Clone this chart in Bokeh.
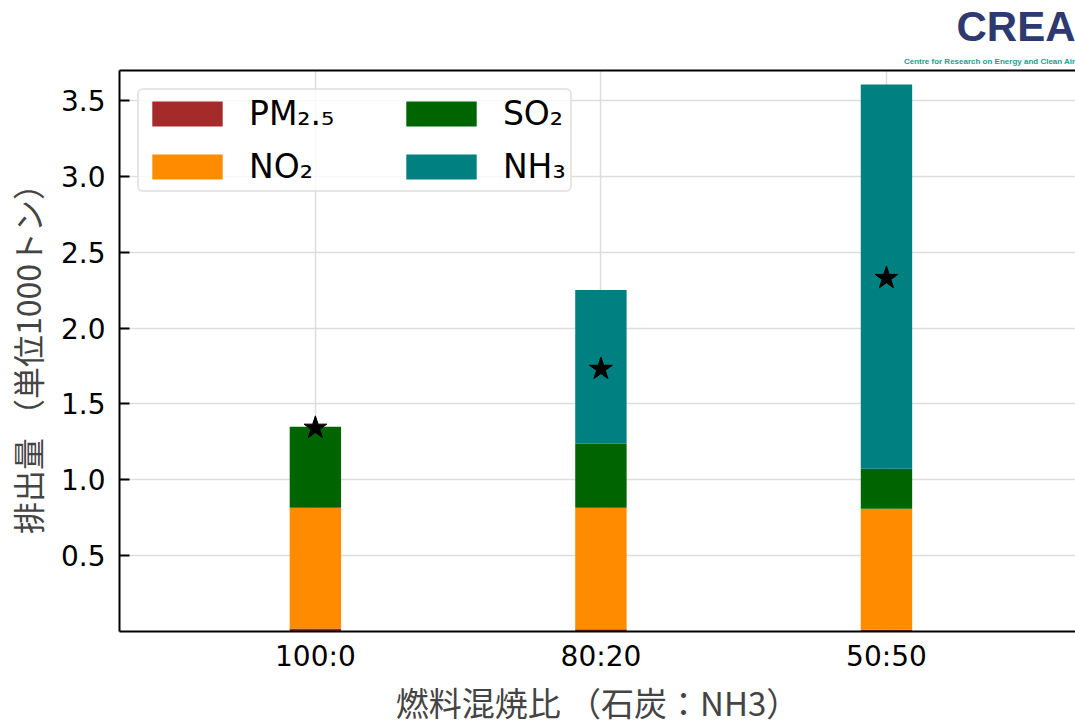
from bokeh.plotting import figure
from bokeh.models import (Range1d, FixedTicker, LinearAxis, Legend, LegendItem,
                          ColumnDataSource, Title, PrintfTickFormatter)
from bokeh.embed import file_html
from bokeh.resources import INLINE

# ---------------- data ----------------
categories = ["100:0", "80:20", "50:50"]
pm25 = [0.020, 0.015, 0.012]
no2 = [0.796, 0.801, 0.797]
so2 = [0.533, 0.421, 0.263]
nh3 = [0.000, 1.013, 2.533]
star_values = [1.342, 1.730, 2.329]
series_names = ["pm25", "no2", "so2", "nh3"]
legend_labels = ["PM\u2082.\u2085" + "\u00a0" * 4 + "\u2009", "NO\u2082", "SO\u2082", "NH\u2083"]
series_colors = ["#a52a2a", "#ff8c00", "#006400", "#008080"]
y_ticks = [0.5, 1.0, 1.5, 2.0, 2.5, 3.0, 3.5]
x_label = "燃料混焼比 （石炭：NH3）"
y_label = "排出量 （単位1000トン）"
logo_name = "CREA"
logo_sub = "Centre for Research on Energy and Clean Air"

xpos = list(range(len(categories)))
source = ColumnDataSource(dict(x=xpos, pm25=pm25, no2=no2, so2=so2, nh3=nh3,
                               star=star_values))

CJK = "Noto Sans CJK JP"
LAT = "DejaVu Sans"

p = figure(width=1075, height=728, output_backend="svg", toolbar_location=None,
           x_range=Range1d(-0.686, 2.662), y_range=Range1d(0, 3.697),
           min_border_left=119, min_border_right=0, min_border_top=70,
           min_border_bottom=96)
p.outline_line_color = None
p.background_fill_color = "white"

renderers = p.vbar_stack(series_names, x="x", width=0.18, source=source,
                         color=series_colors, line_color=None)

p.scatter(x="x", y="star", source=source, marker="star", size=24,
          color="black")

# axes
p.yaxis.ticker = FixedTicker(ticks=y_ticks)
p.yaxis.formatter = PrintfTickFormatter(format="%.1f")
p.xaxis.ticker = FixedTicker(ticks=xpos)
p.xaxis.major_label_overrides = {i: c for i, c in enumerate(categories)}
for ax in (p.xaxis[0], p.yaxis[0]):
    ax.axis_line_color = "black"
    ax.axis_line_width = 2
    ax.minor_tick_line_color = None
    ax.major_label_text_font = LAT
    ax.major_label_text_font_size = "28px"
    ax.major_label_text_color = "black"
    ax.axis_label_text_font = CJK
    ax.axis_label_text_font_size = "32px"
    ax.axis_label_text_font_style = "normal"
    ax.axis_label_text_color = "#444444"
p.xaxis.axis_label_text_font_size = "33px"
p.yaxis.major_tick_in = 10
p.yaxis.major_tick_out = 0
p.yaxis.major_tick_line_width = 2
p.yaxis.major_label_standoff = 14
p.yaxis.axis_label = y_label
p.yaxis.axis_label_standoff = 8
p.xaxis.major_tick_line_color = None
p.xaxis.major_tick_in = 0
p.xaxis.major_tick_out = 0
p.xaxis.major_label_standoff = 8
p.xaxis.axis_label = x_label
p.xaxis.axis_label_standoff = 2

top_axis = LinearAxis(axis_line_color="black", axis_line_width=2,
                      major_tick_line_color=None, minor_tick_line_color=None,
                      major_label_text_font_size="0px", ticker=FixedTicker(ticks=[]))
p.add_layout(top_axis, "above")

p.grid.grid_line_color = "#dddddd"
p.grid.grid_line_width = 1.5

# legend
items = [LegendItem(label=lab, renderers=[r]) for lab, r in zip(legend_labels, renderers)]
legend = Legend(items=items, location="top_left", ncols=2, orientation="vertical",
                glyph_width=88, glyph_height=31, label_standoff=18,
                label_text_font=LAT, label_text_font_size="33px",
                label_text_color="black", label_text_baseline="middle",
                spacing=14, padding=4, margin=18,
                border_line_color="#cccccc", border_line_width=2,
                border_radius=6, background_fill_alpha=0.8)
p.add_layout(legend, "center")

# logo texts (decoration)
p.add_layout(Title(text=logo_sub, align="right", text_font="Liberation Sans",
                   text_font_style="bold", text_font_size="8px",
                   text_color="#1e9c8c", standoff=10), "above")
p.add_layout(Title(text=logo_name, align="right", text_font="Liberation Sans",
                   text_font_style="bold", text_font_size="42px",
                   text_color="#2e3a6e", standoff=0), "above")

open("out.html", "w").write(file_html(p, INLINE))
